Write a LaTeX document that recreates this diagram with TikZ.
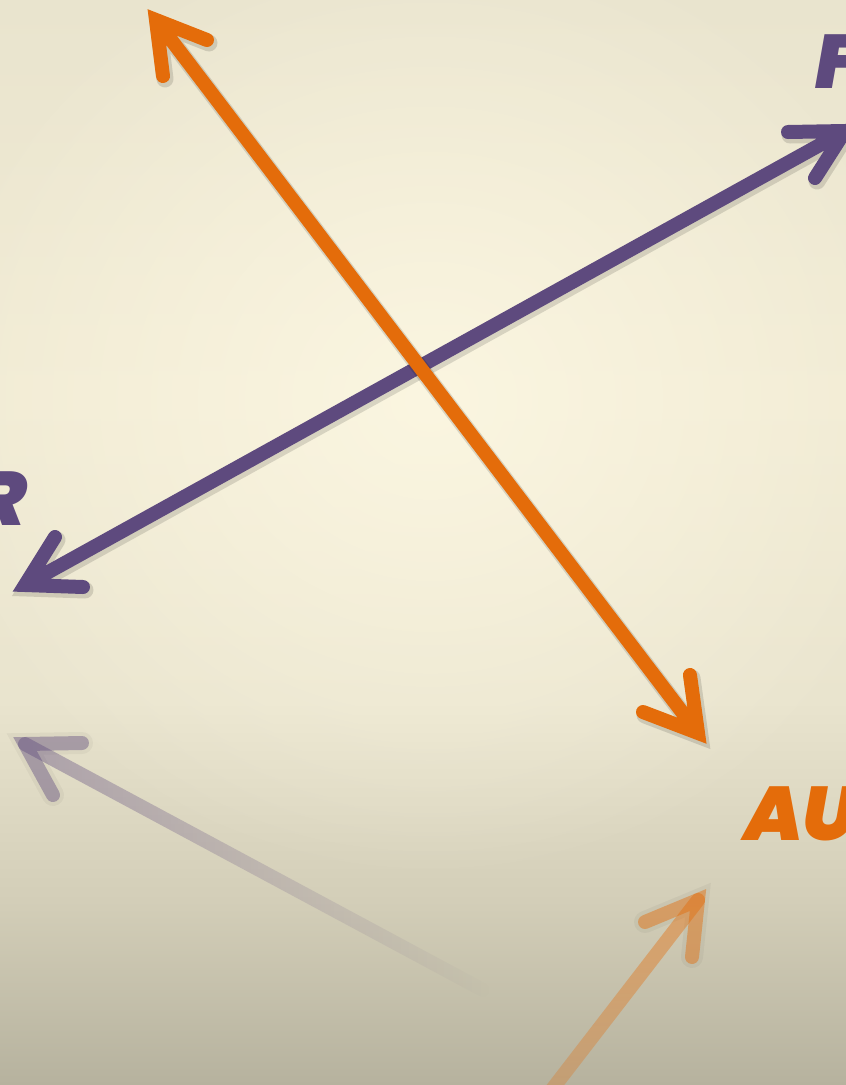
\documentclass[tikz,border=0pt]{standalone}
\usepackage{fontspec}
\IfFontExistsTF{Poppins Black Italic}
  {\newfontfamily\wortfont{Poppins Black Italic}\newcommand\wortstil{\wortfont}}
  {\IfFontExistsTF{Poppins ExtraBold Italic}
    {\newfontfamily\wortfont{Poppins ExtraBold Italic}\newcommand\wortstil{\wortfont}}
    {\newfontfamily\wortfont{Poppins}[BoldItalicFeatures={FakeBold=3}]\newcommand\wortstil{\wortfont\bfseries\itshape}}}
\usetikzlibrary{fadings}
\definecolor{lila}{HTML}{5E4A7E}
\definecolor{orng}{HTML}{E46C0A}
\definecolor{cremeh}{HTML}{FCF7E2}
\definecolor{cremeo}{HTML}{E9E4CE}
\definecolor{cremem}{HTML}{F1EBD4}
\definecolor{cremeu}{HTML}{B6B29E}
\definecolor{cremed}{HTML}{D3CEB8}
\pgfdeclareverticalshading{grund}{100bp}{color(0bp)=(cremeu); color(25bp)=(cremeu);
  color(33.5bp)=(cremed); color(42.7bp)=(cremeo); color(56.6bp)=(cremem);
  color(75bp)=(cremeo); color(100bp)=(cremeo)}
\tikzfading[name=ausrechts, left color=transparent!0, right color=transparent!100]
\tikzfading[name=ausunten, top color=transparent!0, bottom color=transparent!45]
\tikzfading[name=glanz, inner color=transparent!0, outer color=transparent!100]

\begin{document}
\begin{tikzpicture}[x=1pt,y=-1pt,
  pfeil/.style={line width=14pt,line cap=round,line join=miter,miter limit=20},
  schatten/.style={pfeil,black,opacity=0.13,line width=17pt,transform canvas={shift={(2,3)}}},
  halo/.style={pfeil,black,opacity=0.04,line width=22pt},
  wort/.style={inner sep=0pt,font=\wortstil\fontsize{76}{76}\selectfont}]
  \useasboundingbox (0,0) rectangle (846,1085);
  \clip (0,0) rectangle (846,1085);
  % background
  \shade[shading=grund] (0,0) rectangle (846,1085);
  \fill[cremeh,path fading=glanz,opacity=0.9] (430,400) ellipse (520 and 480);
  % tips and barbs
  \coordinate (oa) at (156,20);  \coordinate (oa1) at (207,40);  \coordinate (oa2) at (163,76);
  \coordinate (ob) at (698,733); \coordinate (ob1) at (690,675); \coordinate (ob2) at (643,712);
  \coordinate (la) at (25,585);  \coordinate (la1) at (83,587);  \coordinate (la2) at (55,537);
  \coordinate (lb) at (845,131); \coordinate (lb1) at (788,132); \coordinate (lb2) at (815,178);
  \coordinate (sa) at (25,744);  \coordinate (sa1) at (82,743);  \coordinate (sa2) at (53,795);
  \coordinate (se) at (483,990);
  \coordinate (ta) at (698,900); \coordinate (ta1) at (645,922); \coordinate (ta2) at (692,957);
  \coordinate (te) at (540,1105);
  % reflections
  \draw[halo] (sa1) -- (sa) -- (sa2);
  \draw[pfeil,lila,opacity=0.42] (sa1) -- (sa) -- (sa2);
  \draw[pfeil,lila,opacity=0.42,path fading=ausrechts] (sa) -- (se);
  \draw[halo] (ta1) -- (ta) -- (ta2);
  \draw[pfeil,orng,opacity=0.45] (ta1) -- (ta) -- (ta2);
  \draw[pfeil,orng,opacity=0.45,path fading=ausunten] (ta) -- (te);
  % purple arrow
  \draw[schatten] (la1) -- (la) -- (la2) (la) -- (lb) (lb1) -- (lb) -- (lb2);
  \draw[pfeil,lila] (la1) -- (la) -- (la2) (la) -- (lb) (lb1) -- (lb) -- (lb2);
  % orange arrow
  \draw[schatten] (oa1) -- (oa) -- (oa2) (oa) -- (ob) (ob1) -- (ob) -- (ob2);
  \draw[pfeil,orng] (oa1) -- (oa) -- (oa2) (oa) -- (ob) (ob1) -- (ob) -- (ob2);
  % labels
  \node[wort,lila,anchor=base west] (f) at (815,88) {F};
  \node[wort,lila,anchor=base east] (r) at (27,525) {R};
  \node[wort,orng,anchor=base west] (au) at (744,840) {AU};
\end{tikzpicture}
\end{document}
